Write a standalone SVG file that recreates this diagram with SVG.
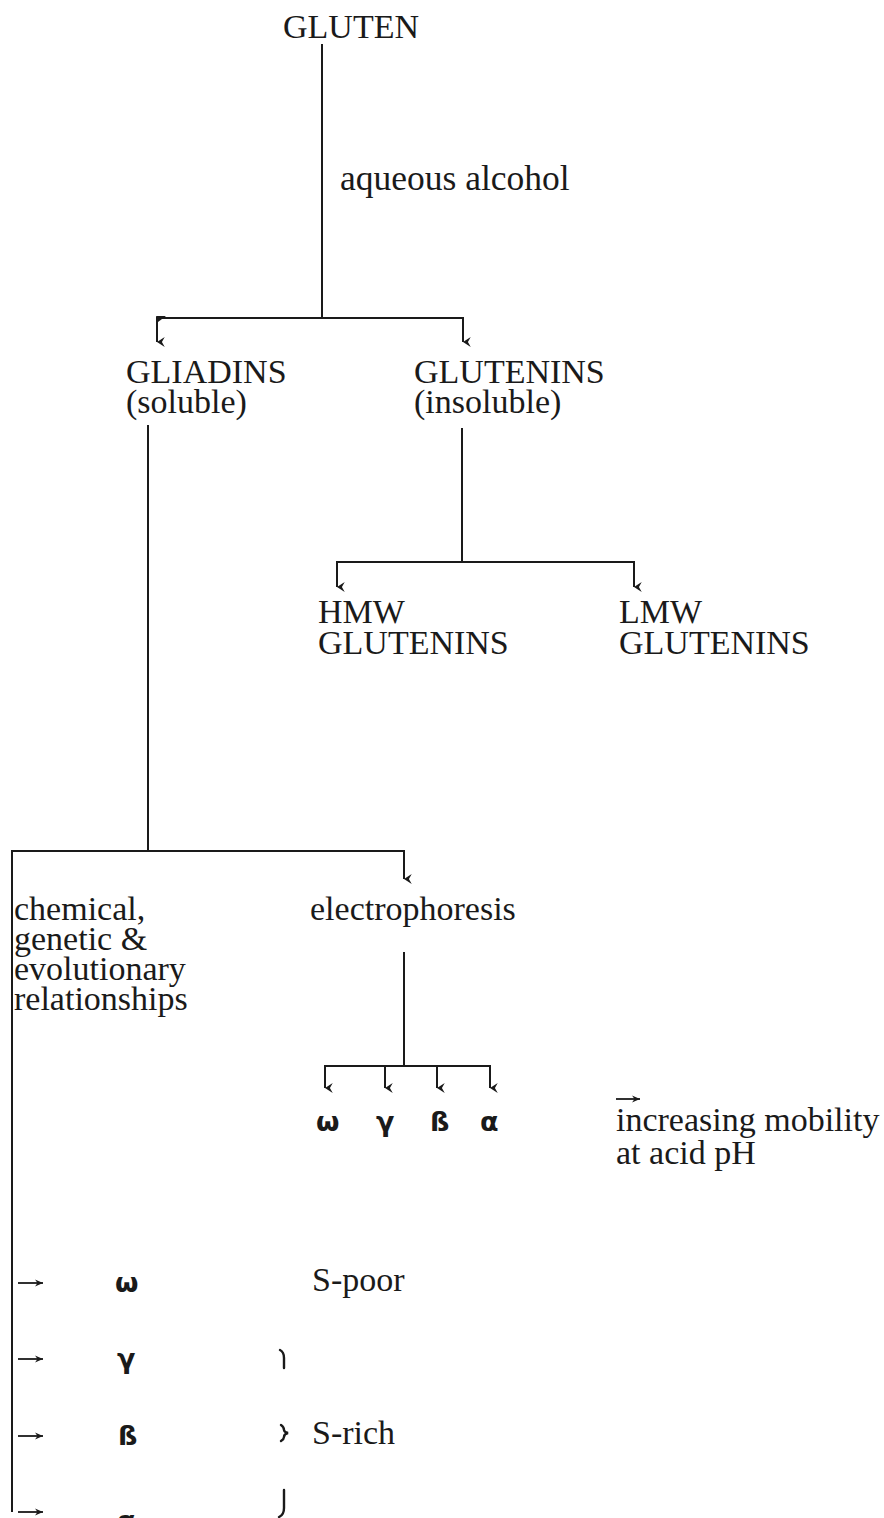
<svg xmlns="http://www.w3.org/2000/svg" width="884" height="1518" viewBox="0 0 884 1518">
<style>
.t{font-family:"Liberation Serif","Times New Roman",serif;font-size:34px;fill:#1a1a1a}
.g{font-family:"DejaVu Sans","Liberation Sans",sans-serif;font-size:27px;font-weight:bold;fill:#1a1a1a}
.c{stroke:#1a1a1a;stroke-width:2;fill:none}
.s{stroke:#1a1a1a;stroke-width:1.8;fill:none}
.b{stroke:#1a1a1a;stroke-width:2.4;fill:none;stroke-linecap:round}
</style>
<defs>
<marker id="ad" markerUnits="userSpaceOnUse" viewBox="0 0 10 10" refX="5" refY="10" markerWidth="11" markerHeight="11" orient="auto-start-reverse">
<path d="M0.5,3 L5,10 L9.5,3 L5,5.5 z" fill="#1a1a1a"/>
</marker>
<marker id="ar" markerUnits="userSpaceOnUse" viewBox="0 0 10 10" refX="10" refY="5" markerWidth="10" markerHeight="10" orient="auto">
<path d="M2,1.5 L10,5 L2,8.5 L4.5,5 z" fill="#1a1a1a"/>
</marker>
</defs>
<g id="connectors">
<line class="c" x1="322" y1="44" x2="322" y2="318"/>
<path class="c" d="M157,342 V318 H463 V342" marker-start="url(#ad)" marker-end="url(#ad)"/>
<path d="M156,316 L166,316 L158,322 Z" fill="#1a1a1a"/>
<line class="c" x1="148" y1="425" x2="148" y2="851"/>
<line class="c" x1="462" y1="428" x2="462" y2="562"/>
<path class="c" d="M337,587 V562 H634 V587" marker-start="url(#ad)" marker-end="url(#ad)"/>
<path class="c" d="M12,1512 V851 H404 V879" marker-end="url(#ad)"/>
<line class="c" x1="404" y1="952" x2="404" y2="1066"/>
<path class="c" d="M325,1088 V1066 H490 V1088" marker-start="url(#ad)" marker-end="url(#ad)"/>
<line class="c" x1="385" y1="1066" x2="385" y2="1088" marker-end="url(#ad)"/>
<line class="c" x1="437" y1="1066" x2="437" y2="1088" marker-end="url(#ad)"/>
<line class="s" x1="616" y1="1099" x2="640" y2="1099" marker-end="url(#ar)"/>
<line class="s" x1="18" y1="1283" x2="43" y2="1283" marker-end="url(#ar)"/>
<line class="s" x1="18" y1="1359" x2="43" y2="1359" marker-end="url(#ar)"/>
<line class="s" x1="18" y1="1436" x2="43" y2="1436" marker-end="url(#ar)"/>
<line class="s" x1="18" y1="1512" x2="43" y2="1512" marker-end="url(#ar)"/>
<path class="b" d="M280,1350 Q284,1352 284,1358 V1368"/>
<path class="b" d="M281,1425 Q284,1427 284,1430 Q284,1432 288,1433 Q284,1434 284,1437 Q284,1439 281,1441"/>
<path class="b" d="M284,1490 V1508 Q284,1515 279,1517"/>
</g>
<g id="gluten"><text class="t" x="283" y="38">GLUTEN</text></g>
<g id="aqueous"><text class="t" x="340" y="190" style="font-size:35.5px">aqueous alcohol</text></g>
<g id="gliadins"><text class="t" x="126" y="383">GLIADINS</text><text class="t" x="126" y="413">(soluble)</text></g>
<g id="glutenins"><text class="t" x="414" y="383">GLUTENINS</text><text class="t" x="414" y="413">(insoluble)</text></g>
<g id="hmw"><text class="t" x="318" y="623">HMW</text><text class="t" x="318" y="654">GLUTENINS</text></g>
<g id="lmw"><text class="t" x="619" y="623">LMW</text><text class="t" x="619" y="654">GLUTENINS</text></g>
<g id="chemical"><text class="t" x="14" y="920">chemical,</text><text class="t" x="14" y="950">genetic &amp;</text><text class="t" x="14" y="980">evolutionary</text><text class="t" x="14" y="1010">relationships</text></g>
<g id="electrophoresis"><text class="t" x="310" y="920">electrophoresis</text></g>
<g id="bands"><text class="g" x="316" y="1131">ω</text><text class="g" x="376" y="1131">γ</text><text class="g" x="430" y="1131">ß</text><text class="g" x="480" y="1131">α</text></g>
<g id="mobility"><text class="t" x="616" y="1131">increasing mobility</text><text class="t" x="616" y="1164">at acid pH</text></g>
<g id="omega"><text class="g" x="115" y="1292">ω</text></g>
<g id="spoor"><text class="t" x="312" y="1291">S-poor</text></g>
<g id="gamma"><text class="g" x="117" y="1368">γ</text></g>
<g id="beta"><text class="g" x="118" y="1445">ß</text></g>
<g id="srich"><text class="t" x="312" y="1444">S-rich</text></g>
<g id="alpha"><text class="g" x="117" y="1530">α</text></g>
</svg>
